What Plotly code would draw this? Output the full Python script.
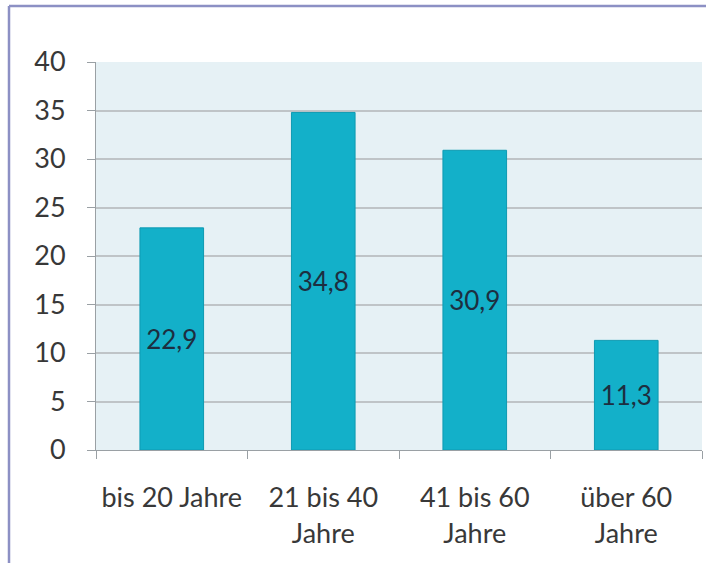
import plotly.graph_objects as go

categories = ["bis 20 Jahre", "21 bis 40<br>Jahre", "41 bis 60<br>Jahre", "über 60<br>Jahre"]
values = [22.9, 34.8, 30.9, 11.3]
y_ticks = [0, 5, 10, 15, 20, 25, 30, 35, 40]

W, H = 706, 563
L, R, T, B = 96, 4, 62, 113
pw, ph = W - L - R, H - T - B

fig = go.Figure(go.Bar(
    x=categories, y=values,
    width=0.42,
    marker=dict(color="#13b0c9", line=dict(color="#0e9ab2", width=1)),
    texttemplate="%{y:.1f}",
    textposition="inside",
    insidetextanchor="middle",
    constraintext="none",
    textangle=0,
    textfont=dict(family="Lato", size=26, color="#1d2e40"),
    hoverinfo="skip",
))

fig.update_layout(
    width=W, height=H,
    margin=dict(l=L, r=R, t=T, b=B),
    paper_bgcolor="white",
    plot_bgcolor="#e6f1f5",
    separators=",.",
    showlegend=False,
    font=dict(family="Lato", size=27, color="#383838"),
    xaxis=dict(
        showgrid=False,
        showline=True, linecolor="#9aa0a4", linewidth=1,
        ticks="outside", tickson="boundaries", ticklen=8, tickcolor="#9aa0a4",
        tickfont=dict(family="Lato", size=27, color="#383838"),
        ticklabelstandoff=24,
    ),
    yaxis=dict(
        range=[0, 40], tickvals=y_ticks,
        showgrid=True, gridcolor="#bfc4c7", gridwidth=1.5,
        showline=True, linecolor="#9aa0a4", linewidth=1,
        ticks="outside", ticklen=8, tickcolor="#9aa0a4",
        tickfont=dict(family="Lato", size=27, color="#383838"),
        ticklabelstandoff=16,
        zeroline=False,
    ),
    shapes=[
        dict(type="line", xref="paper", yref="paper",
             x0=(9 - L) / pw, x1=(W + 5 - L) / pw,
             y0=1 + (T - 6) / ph, y1=1 + (T - 6) / ph,
             line=dict(color="#8c90c4", width=2.5)),
        dict(type="line", xref="paper", yref="paper",
             x0=(9 - L) / pw, x1=(9 - L) / pw,
             y0=1 + (T - 6) / ph, y1=-(B + 5) / ph,
             line=dict(color="#8c90c4", width=2.5)),
    ],
)

fig.write_html("out.html", config={"displayModeBar": False},
               post_script="document.body.style.margin='0';")
